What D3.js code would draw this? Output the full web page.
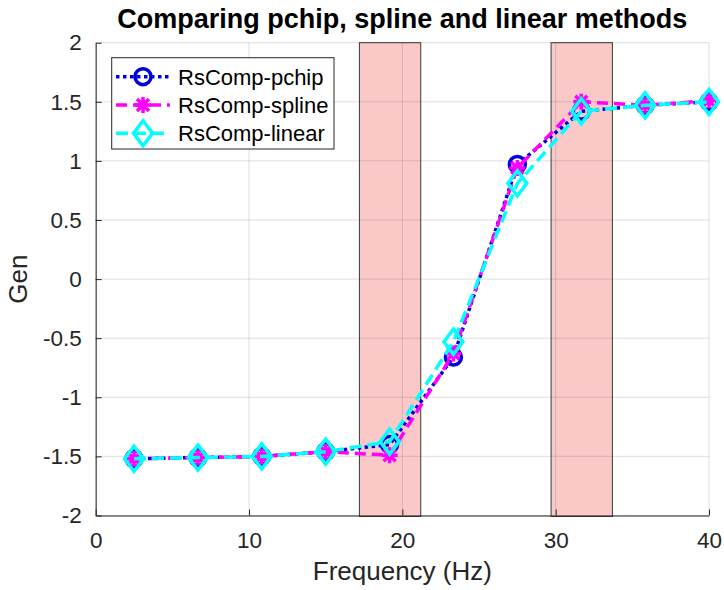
<!DOCTYPE html>
<html>
<head>
<meta charset="utf-8">
<script src="https://cdn.jsdelivr.net/npm/d3@7"></script>
<style>
  html, body { margin: 0; padding: 0; background: #fff; }
  svg { display: block; font-family: "Liberation Sans", Arial, Helvetica, sans-serif; }
</style>
</head>
<body>
<svg id="chart" width="724" height="590"></svg>
<script>
// ---- data ----
const freq = [2.5, 6.67, 10.83, 15, 19.17, 23.33, 27.5, 31.67, 35.83, 40];
const pchipVals  = [-1.52, -1.51, -1.50, -1.46, -1.40, -0.66, 0.97, 1.42, 1.47, 1.50];
const splineVals = [-1.52, -1.51, -1.50, -1.46, -1.49, -0.63, 0.94, 1.50, 1.47, 1.51];
const linearVals = [-1.52, -1.51, -1.50, -1.46, -1.375, -0.53, 0.81, 1.42, 1.47, 1.50];
const seriesNames = ["RsComp-pchip", "RsComp-spline", "RsComp-linear"];
const bandStart = [17.2, 29.7];
const bandEnd   = [21.2, 33.7];
const xTicks = [0, 10, 20, 30, 40];
const yTicks = [-2, -1.5, -1, -0.5, 0, 0.5, 1, 1.5, 2];
const titleText = "Comparing pchip, spline and linear methods";
const xLabel = "Frequency (Hz)";
const yLabel = "Gen";

// ---- layout ----
const svg = d3.select("#chart");
const L = 95.7, R = 709, T = 42.7, B = 515.5;
const x = d3.scaleLinear().domain([0, 40]).range([L, R]);
const y = d3.scaleLinear().domain([-2, 2]).range([B, T]);
const axisColor = "#262626";

// bands
svg.append("g").selectAll("rect").data(bandStart.map((s, i) => [s, bandEnd[i]]))
  .join("rect")
  .attr("x", d => x(d[0])).attr("y", y(2))
  .attr("width", d => x(d[1]) - x(d[0])).attr("height", y(-2) - y(2) + 1)
  .attr("fill", "#fbc8c8").attr("stroke", "#3a3a3a").attr("stroke-width", 1);

// grid
const grid = svg.append("g").attr("stroke", "#262626").attr("stroke-opacity", 0.15).attr("stroke-width", 1);
grid.selectAll(".gx").data(xTicks).join("line")
  .attr("x1", d => x(d)).attr("x2", d => x(d)).attr("y1", T).attr("y2", B);
grid.selectAll(".gy").data(yTicks).join("line")
  .attr("x1", L).attr("x2", R).attr("y1", d => y(d)).attr("y2", d => y(d));

// axes
const fmt = d => String(d);
const gx = svg.append("g").attr("transform", `translate(0,${B})`)
  .call(d3.axisBottom(x).tickValues(xTicks).tickFormat(fmt).tickSizeInner(-6).tickSizeOuter(0).tickPadding(17));
const gy = svg.append("g").attr("transform", `translate(${L},0)`)
  .call(d3.axisLeft(y).tickValues(yTicks).tickFormat(fmt).tickSizeInner(-6).tickSizeOuter(0).tickPadding(14));
[gx, gy].forEach(g => {
  g.select(".domain").attr("stroke", axisColor).attr("stroke-width", 1);
  g.selectAll(".tick line").attr("stroke", axisColor);
  g.selectAll(".tick text").attr("fill", axisColor).style("font-size", "22.5px")
    .style("font-family", "'Liberation Sans', Arial, sans-serif");
});

// labels
svg.append("text").attr("x", (L + R) / 2).attr("y", 28).attr("text-anchor", "middle")
  .style("font-size", "27px").style("font-weight", "bold").attr("fill", "#000").text(titleText);
svg.append("text").attr("x", (L + R) / 2).attr("y", 580).attr("text-anchor", "middle")
  .style("font-size", "26px").attr("fill", axisColor).text(xLabel);
svg.append("text").attr("transform", `translate(27,${(T + B) / 2}) rotate(-90)`).attr("text-anchor", "middle")
  .style("font-size", "26px").attr("fill", axisColor).text(yLabel);

// series
const series = [
  { name: seriesNames[0], vals: pchipVals,  color: "#0000dd", dash: "3.5,3.5", marker: "circle" },
  { name: seriesNames[1], vals: splineVals, color: "#ff00ff", dash: "11,6",  marker: "star" },
  { name: seriesNames[2], vals: linearVals, color: "#00ffff", dash: "12,6",  marker: "diamond" }
];
const line = d3.line().x(d => x(d[0])).y(d => y(d[1]));

function drawMarker(g, kind, cx, cy, color) {
  if (kind === "circle") {
    g.append("circle").attr("cx", cx).attr("cy", cy).attr("r", 8)
      .attr("fill", "none").attr("stroke", color).attr("stroke-width", 3.5);
  } else if (kind === "star") {
    const r = 8, rd = 6;
    const p = `M${cx - r},${cy}L${cx + r},${cy}M${cx},${cy - r}L${cx},${cy + r}` +
      `M${cx - rd},${cy - rd}L${cx + rd},${cy + rd}M${cx - rd},${cy + rd}L${cx + rd},${cy - rd}`;
    g.append("path").attr("d", p).attr("stroke", color).attr("stroke-width", 3.5).attr("fill", "none");
  } else {
    const w = 9.5, h = 12.5;
    g.append("path").attr("d", `M${cx},${cy - h}L${cx + w},${cy}L${cx},${cy + h}L${cx - w},${cy}Z`)
      .attr("fill", "none").attr("stroke", color).attr("stroke-width", 3.5);
  }
}

series.forEach(s => {
  const g = svg.append("g");
  const pts = freq.map((f, i) => [f, s.vals[i]]);
  g.append("path").attr("d", line(pts)).attr("fill", "none").attr("stroke", s.color)
    .attr("stroke-width", 3.5).attr("stroke-dasharray", s.dash);
  pts.forEach(p => drawMarker(g, s.marker, x(p[0]), y(p[1]), s.color));
});

// legend
const lg = svg.append("g");
lg.append("rect").attr("x", 111.7).attr("y", 57.7).attr("width", 334 - 111.7).attr("height", 149 - 57.7)
  .attr("fill", "#fff").attr("stroke", axisColor).attr("stroke-width", 1);
const rowsY = [76.7, 105, 133.3];
series.forEach((s, i) => {
  const yy = rowsY[i];
  lg.append("line").attr("x1", 116).attr("x2", 170).attr("y1", yy).attr("y2", yy)
    .attr("stroke", s.color).attr("stroke-width", 3.5).attr("stroke-dasharray", s.dash);
  drawMarker(lg, s.marker, 143, yy, s.color);
  lg.append("text").attr("x", 178).attr("y", yy + 8).style("font-size", "22px").attr("fill", "#000").text(s.name);
});
</script>
</body>
</html>
